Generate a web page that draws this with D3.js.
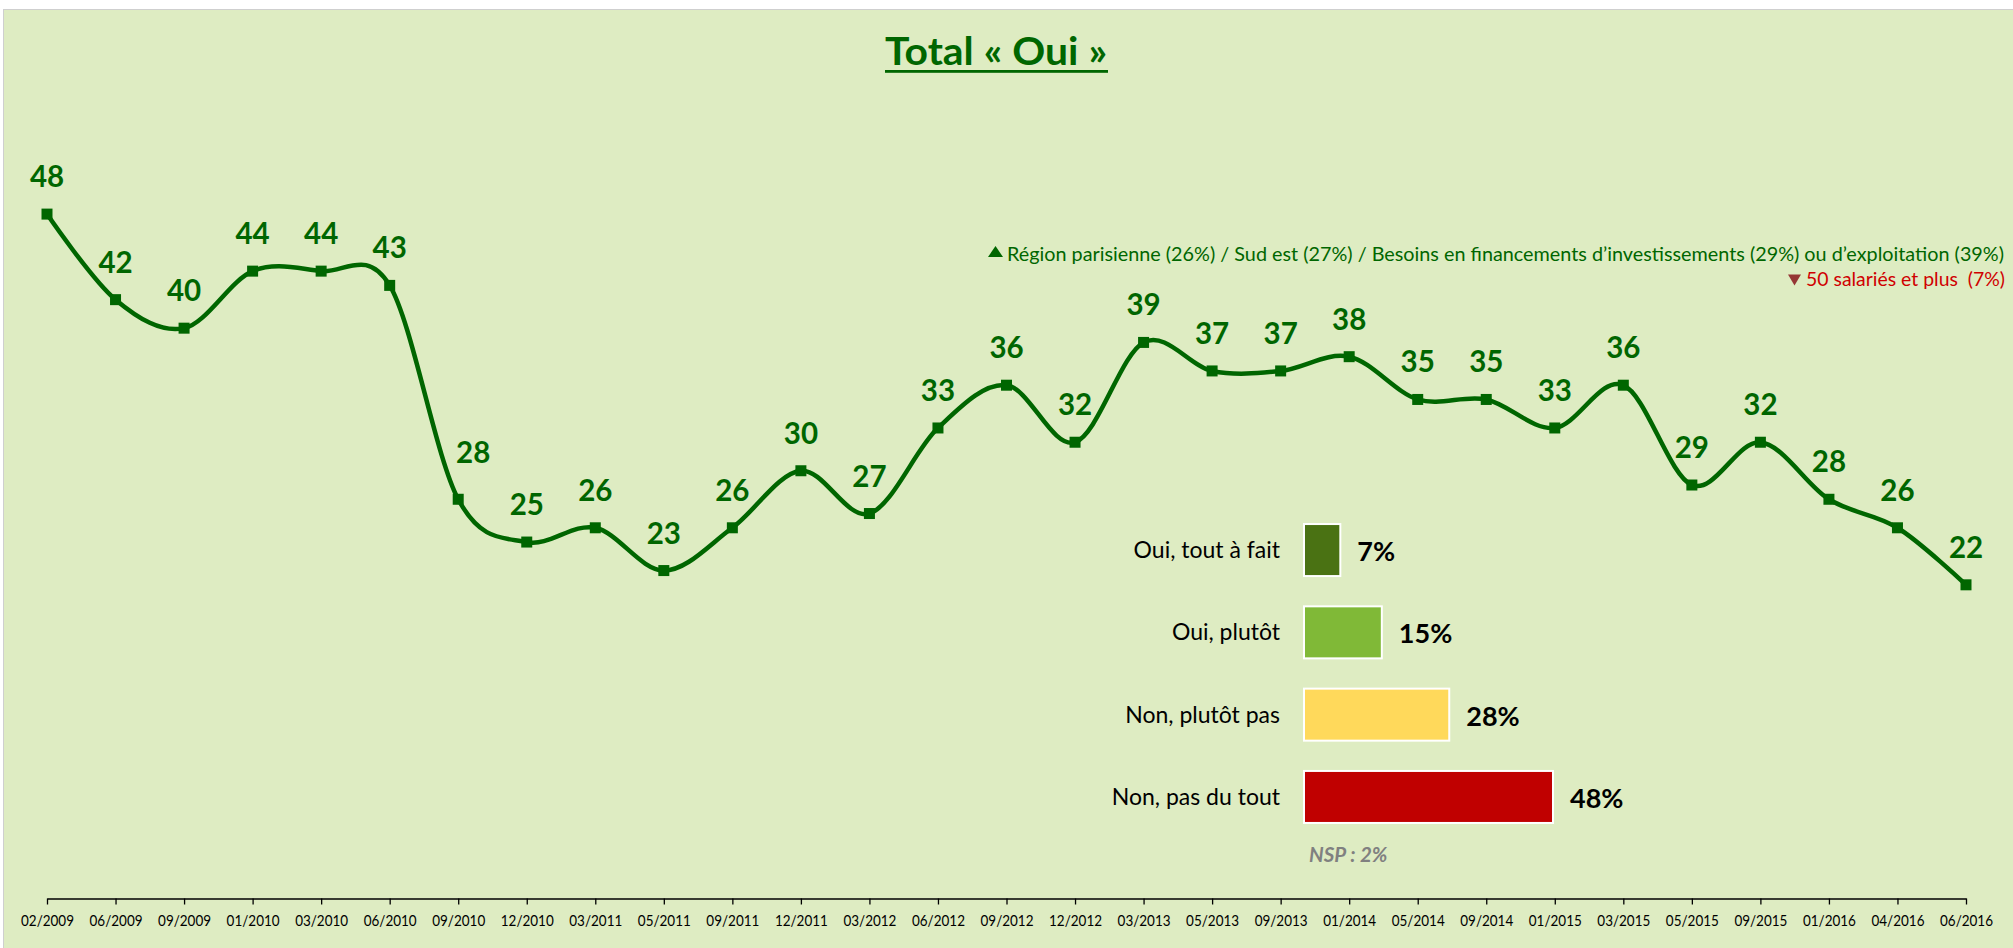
<!DOCTYPE html>
<html>
<head>
<meta charset="utf-8">
<script src="https://cdn.jsdelivr.net/npm/d3@7"></script>
<style>
  html, body { margin: 0; padding: 0; background: #ffffff; }
  svg { display: block; }
  text { font-family: Lato, "Open Sans", sans-serif; }
</style>
</head>
<body>
<svg id="chart" width="2013" height="948"></svg>
<script>
// ---------- DATA ----------
const dates = ["02/2009","06/2009","09/2009","01/2010","03/2010","06/2010","09/2010","12/2010","03/2011","05/2011","09/2011","12/2011","03/2012","06/2012","09/2012","12/2012","03/2013","05/2013","09/2013","01/2014","05/2014","09/2014","01/2015","03/2015","05/2015","09/2015","01/2016","04/2016","06/2016"];
const totalOui = [48,42,40,44,44,43,28,25,26,23,26,30,27,33,36,32,39,37,37,38,35,35,33,36,29,32,28,26,22];

const barCategories = ["Oui, tout à fait", "Oui, plutôt", "Non, plutôt pas", "Non, pas du tout"];
const barValues = [7, 15, 28, 48];
const nspText = "NSP : 2%";

const titleText = "Total « Oui »";
const noteUp = "Région parisienne (26%) / Sud est (27%) / Besoins en financements d’investissements (29%) ou d’exploitation (39%)";
const noteDown = "50 salariés et plus  (7%)";

// ---------- STYLES ----------
const GREEN = "#006600";
const barColors = ["#4a7213", "#80b937", "#ffd95b", "#c00000"];

const svg = d3.select("#chart");

// background panel
svg.append("rect")
  .attr("x", 3.5).attr("y", 9.5)
  .attr("width", 2013).attr("height", 948)
  .attr("fill", "#deecc2")
  .attr("stroke", "#cfcfcf").attr("stroke-width", 1);

// ---------- LINE CHART ----------
const x = d3.scalePoint().domain(dates).range([47, 1966]);
const y = d3.scaleLinear().domain([0, 60]).range([898.5, 43]);

// axis
const axisG = svg.append("g").attr("transform", `translate(0, ${y(0)})`);
axisG.call(d3.axisBottom(x).tickSize(6).tickPadding(10).tickSizeOuter(0));
axisG.select(".domain").attr("stroke", "#000").attr("stroke-width", 1.6);
axisG.selectAll(".tick line").attr("stroke", "#000").attr("stroke-width", 1.3);
axisG.selectAll(".tick text")
  .attr("font-family", "Lato")
  .attr("font-size", 15.5)
  .attr("fill", "#000")
  .attr("dy", 0).attr("y", 27)
  .attr("textLength", 53).attr("lengthAdjust", "spacingAndGlyphs");

const pts = dates.map((d, i) => ({ d, v: totalOui[i] }));

const line = d3.line()
  .x(p => x(p.d))
  .y(p => y(p.v))
  .curve(d3.curveCardinal.tension(0));

svg.append("path")
  .datum(pts)
  .attr("d", line)
  .attr("fill", "none")
  .attr("stroke", GREEN)
  .attr("stroke-width", 4.5)
  .attr("stroke-linejoin", "round");

const M = 11;
svg.append("g").selectAll("rect")
  .data(pts).join("rect")
  .attr("x", p => x(p.d) - M / 2)
  .attr("y", p => y(p.v) - M / 2)
  .attr("width", M).attr("height", M)
  .attr("fill", GREEN);

// label nudges (manual placement in the original)
const labelShift = { "09/2010": [15, -9] };
svg.append("g").selectAll("text")
  .data(pts).join("text")
  .attr("x", p => x(p.d) + (labelShift[p.d] ? labelShift[p.d][0] : 0))
  .attr("y", p => y(p.v) - 27 + (labelShift[p.d] ? labelShift[p.d][1] : 0))
  .attr("text-anchor", "middle")
  .attr("font-weight", 700)
  .attr("font-size", 29.5)
  .attr("fill", GREEN)
  .text(p => p.v);

// ---------- TITLE ----------
svg.append("text")
  .attr("x", 885).attr("y", 64.5)
  .attr("font-size", 37.5).attr("font-weight", 700)
  .attr("fill", GREEN)
  .attr("textLength", 222).attr("lengthAdjust", "spacingAndGlyphs")
  .text(titleText);
svg.append("rect")
  .attr("x", 885).attr("y", 70).attr("width", 223).attr("height", 2.8)
  .attr("fill", GREEN);

// ---------- NOTES ----------
svg.append("path")
  .attr("d", "M988,257 L995.5,246 L1003,257 Z")
  .attr("fill", GREEN);
svg.append("text")
  .attr("x", 1007).attr("y", 261)
  .attr("font-size", 20).attr("fill", GREEN)
  .attr("textLength", 997).attr("lengthAdjust", "spacingAndGlyphs")
  .text(noteUp);

svg.append("path")
  .attr("d", "M1788,274.5 L1801,274.5 L1794.5,285.5 Z")
  .attr("fill", "#953735");
svg.append("text")
  .attr("x", 1806).attr("y", 286)
  .attr("font-size", 20).attr("fill", "#d00000")
  .attr("textLength", 199).attr("lengthAdjust", "spacingAndGlyphs")
  .style("white-space", "pre")
  .text(noteDown);

// ---------- BAR CHART ----------
const bx = d3.scaleLinear().domain([0, 48]).range([0, 249]);
const by = d3.scaleBand().domain(barCategories)
  .range([508.9, 838.1]).paddingInner(0.368).paddingOuter(0.184);
const bar0 = 1304;

svg.append("g").selectAll("rect")
  .data(barCategories).join("rect")
  .attr("x", bar0)
  .attr("y", c => by(c))
  .attr("width", (c, i) => bx(barValues[i]))
  .attr("height", by.bandwidth())
  .attr("fill", (c, i) => barColors[i])
  .attr("stroke", "#ffffff").attr("stroke-width", 2);

svg.append("g").selectAll("text")
  .data(barCategories).join("text")
  .attr("x", 1280)
  .attr("y", c => by(c) + by.bandwidth() / 2 + 8)
  .attr("text-anchor", "end")
  .attr("font-size", 23).attr("fill", "#000")
  .text(c => c);

svg.append("g").selectAll("text")
  .data(barCategories).join("text")
  .attr("x", (c, i) => bar0 + bx(barValues[i]) + 17)
  .attr("y", c => by(c) + by.bandwidth() / 2 + 11)
  .attr("font-size", 27).attr("font-weight", 700).attr("fill", "#000")
  .text((c, i) => barValues[i] + "%");

svg.append("text")
  .attr("x", 1309).attr("y", 862)
  .attr("font-size", 20.5).attr("font-weight", 700).attr("font-style", "italic")
  .attr("fill", "#808080")
  .text(nspText);
</script>
</body>
</html>
